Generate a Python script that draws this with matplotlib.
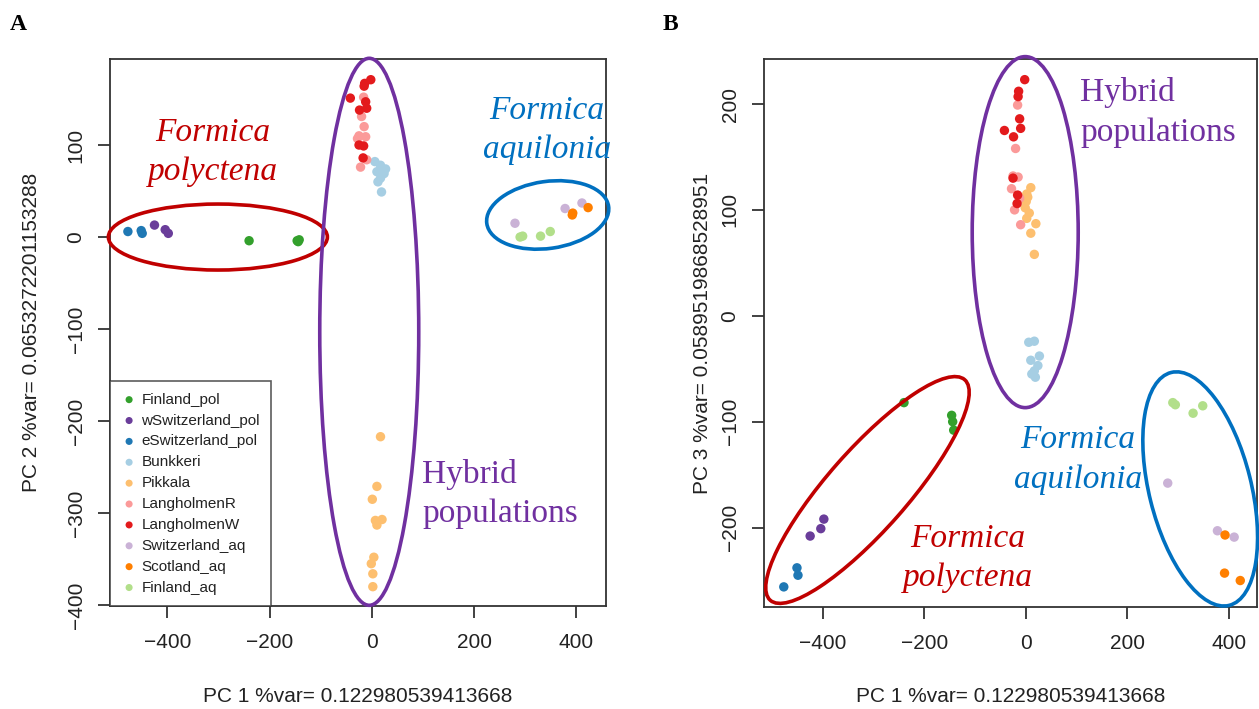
import matplotlib
matplotlib.use("Agg")
import matplotlib.pyplot as plt
from matplotlib.patches import Ellipse
from matplotlib.transforms import ScaledTranslation

plt.rcParams['font.family'] = ['Liberation Sans', 'DejaVu Sans']

# populations and colours (RColorBrewer "Paired")
populations = ["Finland_pol", "wSwitzerland_pol", "eSwitzerland_pol", "Bunkkeri", "Pikkala",
               "LangholmenR", "LangholmenW", "Switzerland_aq", "Scotland_aq", "Finland_aq"]
pop_colors = ["#33A02C", "#6A3D9A", "#1F78B4", "#A6CEE3", "#FDBF6F",
              "#FB9A99", "#E31A1C", "#CAB2D6", "#FF7F00", "#B2DF8A"]

# PCA scores
pc1 = {
    "Finland_pol": [-240, -146, -144, -142],
    "wSwitzerland_pol": [-425, -404, -398],
    "eSwitzerland_pol": [-477, -451, -449],
    "Bunkkeri": [6, 17, 27, 10, 24, 17, 12, 19],
    "Pikkala": [17, 10, 1, 7, 20, 10, 4, -1, 2, 2],
    "LangholmenR": [-20, -15, -25, -12, -28, -10, -22, -16],
    "LangholmenW": [-2, -14, -15, -42, -12, -24, -10, -25, -16, -17],
    "Switzerland_aq": [280, 378, 411],
    "Scotland_aq": [393, 392, 423],
    "Finland_aq": [290, 295, 330, 349],
}
pc2 = {
    "Finland_pol": [-4, -4, -5, -3],
    "wSwitzerland_pol": [13, 8, 4],
    "eSwitzerland_pol": [6, 7, 4],
    "Bunkkeri": [82, 78, 74, 71, 69, 64, 60, 49],
    "Pikkala": [-217, -271, -285, -308, -307, -313, -348, -355, -366, -380],
    "LangholmenR": [131, 120, 110, 109, 107, 84, 76, 152],
    "LangholmenW": [171, 167, 164, 151, 147, 138, 140, 100, 99, 86],
    "Switzerland_aq": [15, 31, 37],
    "Scotland_aq": [26, 24, 32],
    "Finland_aq": [0, 1, 1, 6],
}
pc3 = {
    "Finland_pol": [-82, -94, -100, -108],
    "wSwitzerland_pol": [-208, -201, -192],
    "eSwitzerland_pol": [-256, -238, -245],
    "Bunkkeri": [-25, -24, -38, -42, -47, -52, -55, -58],
    "Pikkala": [58, 121, 108, 97, 87, 78, 112, 102, 92, 115],
    "LangholmenR": [158, 131, 132, 111, 120, 86, 100, 199],
    "LangholmenW": [223, 212, 207, 175, 186, 169, 177, 130, 114, 106],
    "Switzerland_aq": [-158, -203, -209],
    "Scotland_aq": [-207, -243, -250],
    "Finland_aq": [-82, -84, -92, -85],
}

xlabel = "PC 1 %var= 0.122980539413668"
ylabel_a = "PC 2 %var= 0.0653272201153288"
ylabel_b = "PC 3 %var= 0.0589519868528951"

RED, BLUE, PURPLE = "#C00000", "#0070C0", "#7030A0"
DPI = 100
W, H = 1259, 709

fig = plt.figure(figsize=(W / DPI, H / DPI), dpi=DPI)
ax_a = fig.add_axes([110 / W, 1 - 606 / H, 496 / W, 547 / H])
ax_b = fig.add_axes([764 / W, 1 - 607 / H, 493 / W, 548 / H])


def style_axis(ax, xlim, ylim, yticks):
    ax.set_xlim(*xlim)
    ax.set_ylim(*ylim)
    ax.set_xticks([-400, -200, 0, 200, 400])
    ax.set_yticks(yticks)
    for s in ax.spines.values():
        s.set_color("#333333")
        s.set_linewidth(1.3)
    ax.tick_params(direction="out", length=8.6, width=1.3, color="#333333",
                   labelsize=15, labelcolor="#222222")
    ax.tick_params(axis="x", pad=11)
    ax.tick_params(axis="y", pad=9)
    for lab in ax.get_yticklabels():
        lab.set_rotation(90)
        lab.set_va("center")


def ellipse(ax, cx, cy, w_px, h_px, angle, color):
    # size in pixels, centre in data coordinates
    e = Ellipse((0, 0), w_px / DPI, h_px / DPI, angle=angle, fill=False,
                edgecolor=color, linewidth=2.6, clip_on=False, zorder=5,
                transform=fig.dpi_scale_trans + ScaledTranslation(cx, cy, ax.transData))
    ax.add_artist(e)


def scatter_panel(ax, ydata):
    for pop, col in zip(populations, pop_colors):
        ax.scatter(pc1[pop], ydata[pop], s=46, color=col, edgecolors="none",
                   label=pop, zorder=3)


serif = ["Liberation Serif", "DejaVu Serif"]
LS = 1.38

# ---- panel A ----
scatter_panel(ax_a, pc2)
style_axis(ax_a, (-512, 458), (-401, 193.5), [-400, -300, -200, -100, 0, 100])
ax_a.set_xlabel(xlabel, fontsize=15, color="#222222", va="center")
ax_a.xaxis.set_label_coords(0.5, -0.166)
ax_a.set_ylabel(ylabel_a, fontsize=15, color="#222222", va="center")
ax_a.yaxis.set_label_coords(-0.158, 0.5)
leg = ax_a.legend(loc="lower left", bbox_to_anchor=(0, 0), borderaxespad=0,
                  fontsize=11, frameon=True, fancybox=False, edgecolor="#333333",
                  markerscale=0.75, handlelength=1.0, handletextpad=0.3,
                  borderpad=0.75, labelspacing=0.45, scatterpoints=1)
leg.get_frame().set_linewidth(1.2)
leg.set_zorder(4)
for t in leg.get_texts():
    t.set_color("#222222")

ellipse(ax_a, -301, 0, 219, 66, 0, RED)
ellipse(ax_a, -5, -103, 99, 547, 0, PURPLE)
ellipse(ax_a, 344, 24, 123, 67, 8, BLUE)

ax_a.text(-311, 92, "Formica\npolyctena", color=RED, fontsize=24, family=serif,
          style="italic", ha="center", va="center", linespacing=LS)
ax_a.text(342, 116, "Formica\naquilonia", color=BLUE, fontsize=24, family=serif,
          style="italic", ha="center", va="center", linespacing=LS)
ax_a.text(99, -279, "Hybrid\npopulations", color=PURPLE, fontsize=24, family=serif,
          ha="left", va="center", linespacing=LS)

# ---- panel B ----
scatter_panel(ax_b, pc3)
style_axis(ax_b, (-516, 456), (-275, 242.5), [-200, -100, 0, 100, 200])
ax_b.set_xlabel(xlabel, fontsize=15, color="#222222", va="center")
ax_b.xaxis.set_label_coords(0.5, -0.164)
ax_b.set_ylabel(ylabel_b, fontsize=15, color="#222222", va="center")
ax_b.yaxis.set_label_coords(-0.124, 0.5)

ellipse(ax_b, -1, 79, 106, 351, 0, PURPLE)
ellipse(ax_b, -312, -164.5, 294, 80, 48.6, RED)
ellipse(ax_b, 344, -163.5, 240, 102, 104, BLUE)

ax_b.text(107, 192, "Hybrid\npopulations", color=PURPLE, fontsize=24, family=serif,
          ha="left", va="center", linespacing=LS)
ax_b.text(-114, -229, "Formica\npolyctena", color=RED, fontsize=24, family=serif,
          style="italic", ha="center", va="center", linespacing=LS)
ax_b.text(103, -136, "Formica\naquilonia", color=BLUE, fontsize=24, family=serif,
          style="italic", ha="center", va="center", linespacing=LS)

# panel letters
fig.text(18 / W, 1 - 25 / H, "A", fontsize=17, fontweight="bold", family=serif,
         ha="center", va="center")
fig.text(670 / W, 1 - 25 / H, "B", fontsize=17, fontweight="bold", family=serif,
         ha="center", va="center")

fig.savefig("out.png", dpi=DPI)
